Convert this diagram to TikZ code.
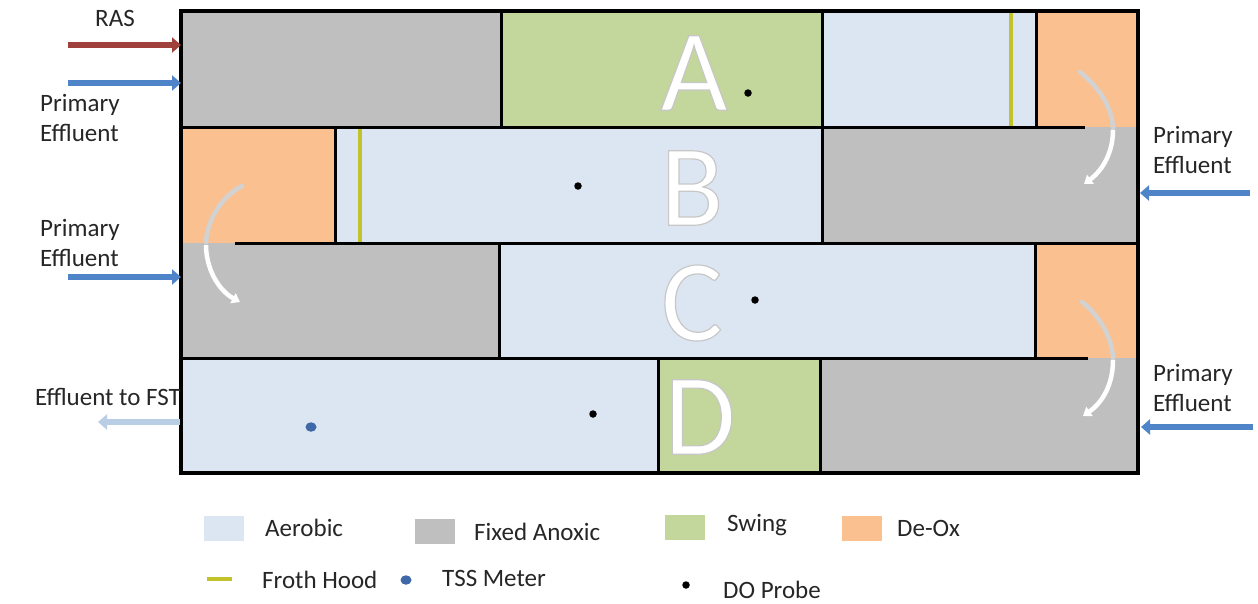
\documentclass[tikz,border=0pt]{standalone}
\usepackage{fontspec}
\setmainfont{Carlito}
\usetikzlibrary{arrows.meta,shapes.geometric}
\definecolor{aer}{HTML}{DCE6F2}
\definecolor{anox}{HTML}{BFBFBF}
\definecolor{swing}{HTML}{C3D69B}
\definecolor{deox}{HTML}{FAC090}
\definecolor{froth}{HTML}{C2C22A}
\definecolor{rascol}{HTML}{A0403C}
\definecolor{pecol}{HTML}{4F84C8}
\definecolor{fstcol}{HTML}{B9CDE5}
\definecolor{tsscol}{HTML}{3E68A8}
\definecolor{txt}{HTML}{262626}
\newcommand{\outlined}[1]{\special{pdf:code 2 Tr 0.78 G 1.2 w}#1\special{pdf:code 0 Tr 0 G 1 w}}
\tikzset{
  wall/.style={line width=3pt, black},
  hood/.style={line width=3.5pt, froth},
  flow/.style={line width=6.5pt, -{Triangle[length=9pt,width=15pt]}},
  lbl/.style={font=\fontsize{25}{30}\selectfont, text=txt, inner sep=0pt, align=left},
  big/.style={font=\fontsize{116}{116}\selectfont, inner sep=0pt, text=white},
  probe/.style={circle, fill=black, inner sep=0pt, minimum size=7.5pt},
  tssdot/.style={ellipse, fill=tsscol, inner sep=0pt, minimum width=11pt, minimum height=9.5pt},
  swatch/.style={inner sep=0pt, minimum width=40pt, minimum height=25pt},
  turnA/.style={line width=4.5pt, gray!35, line cap=round},
  turnB/.style={line width=4.5pt, white, -{Triangle[length=8pt,width=11pt]}},
}
\begin{document}
\begin{tikzpicture}[x=1pt,y=-1pt]
\useasboundingbox (0,0) rectangle (1258,603);
% zones row A
\fill[anox]  (181,11) rectangle (501,127);
\fill[swing] (501,11) rectangle (822,127);
\fill[aer]   (822,11) rectangle (1036,127);
\fill[deox]  (1036,11) rectangle (1138,127);
% row B
\fill[deox]  (181,127) rectangle (335,243);
\fill[aer]   (335,127) rectangle (822,243);
\fill[anox]  (822,127) rectangle (1138,243);
% row C
\fill[anox]  (181,243) rectangle (499,358);
\fill[aer]   (499,243) rectangle (1035,358);
\fill[deox]  (1035,243) rectangle (1138,358);
% row D
\fill[aer]   (181,358) rectangle (658,473);
\fill[swing] (658,358) rectangle (820,473);
\fill[anox]  (820,358) rectangle (1138,473);
% froth hoods
\draw[hood] (1011,11) -- (1011,127);
\draw[hood] (360,127) -- (360,243);
% walls
\draw[wall] (181,127) -- (1085,127);
\draw[wall] (235,243) -- (1138,243);
\draw[wall] (181,358) -- (1088,358);
\draw[wall] (501,11) -- (501,127);
\draw[wall] (822,11) -- (822,127);
\draw[wall] (1036,11) -- (1036,127);
\draw[wall] (335,127) -- (335,243);
\draw[wall] (822,127) -- (822,243);
\draw[wall] (499,243) -- (499,358);
\draw[wall] (1035,243) -- (1035,358);
\draw[wall] (658,358) -- (658,473);
\draw[wall] (820,358) -- (820,473);
\draw[line width=3.5pt] (181,11) rectangle (1138,473);
% big letters
\node[big] (letA) at (694,73) {\outlined{A}};
\node[big] (letB) at (692,188) {\outlined{B}};
\node[big] (letC) at (692,303) {\outlined{C}};
\node[big] (letD) at (700,417) {\outlined{D}};
% probes
\node[probe] (doA) at (748,93) {};
\node[probe] (doB) at (578,186) {};
\node[probe] (doC) at (755,300) {};
\node[probe] (doD) at (593,414) {};
\node[tssdot] (tss) at (311,427) {};
% turning flows
\draw[turnA] (1080,72) .. controls (1100,88) and (1112,108) .. (1113,128);
\draw[turnB] (1113,130) .. controls (1113,152) and (1103,170) .. (1084,184);
\draw[turnA] (242,186) .. controls (222,196) and (207,220) .. (206,242);
\draw[turnB] (206,245) .. controls (206,268) and (218,290) .. (240,302);
\draw[turnA] (1082,302) .. controls (1100,316) and (1112,338) .. (1113,358);
\draw[turnB] (1113,360) .. controls (1113,384) and (1103,402) .. (1083,416);
% inflow / outflow coordinates
\coordinate (rasS) at (68,45);   \coordinate (rasE) at (181,45);
\coordinate (pe1S) at (68,83);   \coordinate (pe1E) at (181,83);
\coordinate (pe2S) at (1250,193);\coordinate (pe2E) at (1140,193);
\coordinate (pe3S) at (68,277);  \coordinate (pe3E) at (181,277);
\coordinate (pe4S) at (1253,427);\coordinate (pe4E) at (1141,427);
\coordinate (fstS) at (180,422); \coordinate (fstE) at (98,422);
\draw[flow, rascol] (rasS) -- (rasE);
\draw[flow, pecol] (pe1S) -- (pe1E);
\draw[flow, pecol] (pe2S) -- (pe2E);
\draw[flow, pecol] (pe3S) -- (pe3E);
\draw[flow, pecol] (pe4S) -- (pe4E);
\draw[flow, fstcol] (fstS) -- (fstE);
% labels
\node[lbl] (tRAS) at (115,18) {RAS};
\node[lbl, anchor=west] (tPE1) at (40,118) {Primary\\Effluent};
\node[lbl, anchor=west] (tPE2) at (1153,150) {Primary\\Effluent};
\node[lbl, anchor=west] (tPE3) at (40,243) {Primary\\Effluent};
\node[lbl, anchor=west] (tPE4) at (1153,388) {Primary\\Effluent};
\node[lbl, anchor=east] (tFST) at (181,397) {Effluent to FST};
% legend
\node[swatch, fill=aer]   (sAer)  at (224,528) {};
\node[lbl, anchor=west]  (lAer)  at (265,528) {Aerobic};
\node[swatch, fill=anox]  (sAnox) at (435,531) {};
\node[lbl, anchor=west]  (lAnox) at (474,532) {Fixed Anoxic};
\node[swatch, fill=swing] (sSw)   at (685,527) {};
\node[lbl, anchor=west]  (lSw)   at (727,525) {Swing};
\node[swatch, fill=deox]  (sDx)   at (862,528) {};
\node[lbl, anchor=west]  (lDx)   at (897,528) {De-Ox};
\draw[hood, line width=4.5pt] (207,579) coordinate (fh1) -- (232,579) coordinate (fh2);
\node[lbl, anchor=west]  (lFH)   at (262,580) {Froth Hood};
\node[tssdot] (lgTSS) at (406,580) {};
\node[lbl, anchor=west]  (lTSS)  at (442,578) {TSS Meter};
\node[probe] (lgDO) at (686,585) {};
\node[lbl, anchor=west]  (lDO)   at (723,590) {DO Probe};
\end{tikzpicture}
\end{document}
